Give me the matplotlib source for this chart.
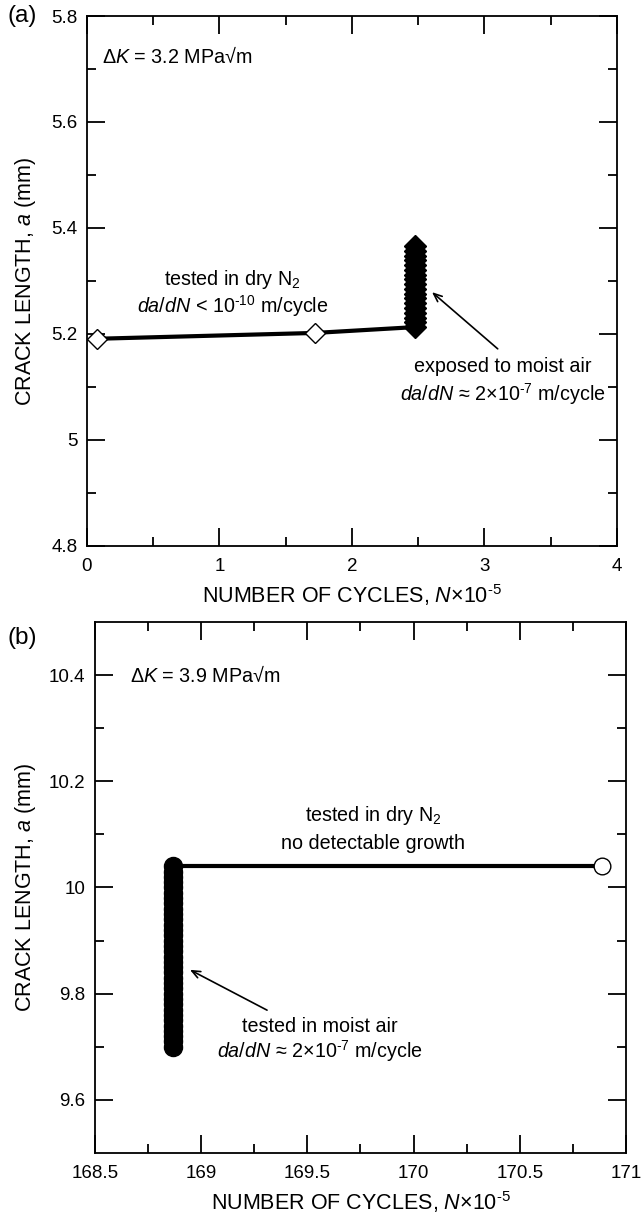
import numpy as np
import matplotlib.pyplot as plt
from matplotlib.ticker import MultipleLocator, FormatStrFormatter

plt.rcParams['font.family'] = ['Liberation Sans', 'DejaVu Sans']
plt.rcParams['mathtext.fontset'] = 'custom'
plt.rcParams['mathtext.rm'] = 'Liberation Sans'
plt.rcParams['mathtext.it'] = 'Liberation Sans:italic'
plt.rcParams['mathtext.sf'] = 'Liberation Sans'

# panel (a): dK = 3.2 MPa sqrt(m)
a_dry_N = [0.075, 1.72, 2.475]
a_dry_a = [5.191, 5.202, 5.213]
a_moist_N = [2.475, 2.475, 2.475, 2.475, 2.475, 2.476, 2.476, 2.476, 2.476,
             2.476, 2.477, 2.477, 2.477, 2.477, 2.477, 2.478, 2.478, 2.478]
a_moist_a = [5.213, 5.222, 5.231, 5.240, 5.249, 5.258, 5.267, 5.276, 5.285,
             5.294, 5.303, 5.312, 5.321, 5.330, 5.339, 5.348, 5.357, 5.366]

# panel (b): dK = 3.9 MPa sqrt(m)
b_moist_N = [168.867] * 35
b_moist_a = [9.700, 9.710, 9.720, 9.730, 9.740, 9.750, 9.760, 9.770, 9.780,
             9.790, 9.800, 9.810, 9.820, 9.830, 9.840, 9.850, 9.860, 9.870,
             9.880, 9.890, 9.900, 9.910, 9.920, 9.930, 9.940, 9.950, 9.960,
             9.970, 9.980, 9.990, 10.000, 10.010, 10.020, 10.030, 10.040]
b_dry_N = [168.867, 170.887]
b_dry_a = [10.040, 10.040]

fig = plt.figure(figsize=(6.41, 12.14), dpi=100)
ax1 = fig.add_axes([0.1357, 0.55025, 0.8268, 0.43657])
ax2 = fig.add_axes([0.1482, 0.05025, 0.8284, 0.43740])

FS = 13.5   # tick labels
AFS = 14.2  # annotations
LFS = 15.5  # axis labels

XLAB = r'NUMBER OF CYCLES, $\mathit{N}$×10$^{\text{-5}}$'
YLAB = r'CRACK LENGTH, $\mathit{a}$ (mm)'
RATE7 = r'$\mathit{da/dN}$ ≈ 2×10$^{\text{-7}}$ m/cycle'


def style(ax):
    for s in ax.spines.values():
        s.set_linewidth(1.3)
    ax.tick_params(which='both', direction='in', top=True, right=True,
                   width=1.3, labelsize=FS)
    ax.tick_params(axis='x', which='both', pad=9)
    ax.tick_params(axis='y', which='both', pad=7)
    ax.tick_params(which='major', length=13)
    ax.tick_params(which='minor', length=6.5)
    ax.xaxis.set_major_formatter(FormatStrFormatter('%g'))
    ax.yaxis.set_major_formatter(FormatStrFormatter('%g'))
    ax.set_xlabel(XLAB, fontsize=LFS, labelpad=5)
    ax.set_ylabel(YLAB, fontsize=LFS)


arrow_props = dict(arrowstyle='->,head_length=0.6,head_width=0.25',
                   color='black', lw=1.2, shrinkA=0, shrinkB=0)

# ---- (a)
ax1.plot(a_dry_N, a_dry_a, color='black', lw=3, zorder=2)
ax1.plot(a_moist_N, a_moist_a, 'D', color='black', ms=11, zorder=3)
ax1.plot(a_dry_N[:2], a_dry_a[:2], 'D', mfc='white', mec='black', mew=1,
         ms=10, zorder=4)
ax1.set_xlim(0, 4)
ax1.set_ylim(4.8, 5.8)
ax1.xaxis.set_major_locator(MultipleLocator(1))
ax1.xaxis.set_minor_locator(MultipleLocator(0.5))
ax1.yaxis.set_major_locator(MultipleLocator(0.2))
ax1.yaxis.set_minor_locator(MultipleLocator(0.1))
style(ax1)
ax1.yaxis.set_label_coords(-0.092, 0.5)

ax1.text(0.113, 5.723, r'$\Delta\mathit{K}$ = 3.2 MPa√m', fontsize=AFS,
         ha='left', va='center')
ax1.text(1.10, 5.302, r'tested in dry N$_2$', fontsize=AFS, ha='center', va='center')
ax1.text(1.10, 5.253, r'$\mathit{da/dN}$ < 10$^{\text{-10}}$ m/cycle', fontsize=AFS,
         ha='center', va='center')
ax1.annotate('', xy=(2.604, 5.279), xytext=(3.10, 5.172), arrowprops=arrow_props)
ax1.text(3.14, 5.138, 'exposed to moist air', fontsize=AFS, ha='center', va='center')
ax1.text(3.14, 5.087, RATE7, fontsize=AFS, ha='center', va='center')
fig.text(0.012, 1 - 16 / 1214, '(a)', fontsize=17.5, ha='left', va='center')

# ---- (b)
ax2.plot(b_dry_N, b_dry_a, color='black', lw=3, zorder=2)
ax2.plot(b_moist_N, b_moist_a, 'o', color='black', ms=13, zorder=3)
ax2.plot(b_dry_N[1:], b_dry_a[1:], 'o', mfc='white', mec='black', mew=1,
         ms=12, zorder=4)
ax2.set_xlim(168.5, 171)
ax2.set_ylim(9.5, 10.5)
ax2.xaxis.set_major_locator(MultipleLocator(0.5))
ax2.xaxis.set_minor_locator(MultipleLocator(0.25))
ax2.set_yticks([9.6, 9.8, 10.0, 10.2, 10.4])
ax2.set_yticks([9.7, 9.9, 10.1, 10.3], minor=True)
style(ax2)
ax2.yaxis.set_label_coords(-0.107, 0.5)

ax2.text(168.665, 10.40, r'$\Delta\mathit{K}$ = 3.9 MPa√m', fontsize=AFS,
         ha='left', va='center')
ax2.text(169.81, 10.136, r'tested in dry N$_2$', fontsize=AFS, ha='center', va='center')
ax2.text(169.81, 10.083, 'no detectable growth', fontsize=AFS, ha='center', va='center')
ax2.annotate('', xy=(168.947, 9.845), xytext=(169.31, 9.769), arrowprops=arrow_props)
ax2.text(169.56, 9.739, 'tested in moist air', fontsize=AFS, ha='center', va='center')
ax2.text(169.56, 9.692, RATE7, fontsize=AFS, ha='center', va='center')
fig.text(0.012, 1 - 638 / 1214, '(b)', fontsize=17.5, ha='left', va='center')

fig.savefig('out.png', dpi=100)
